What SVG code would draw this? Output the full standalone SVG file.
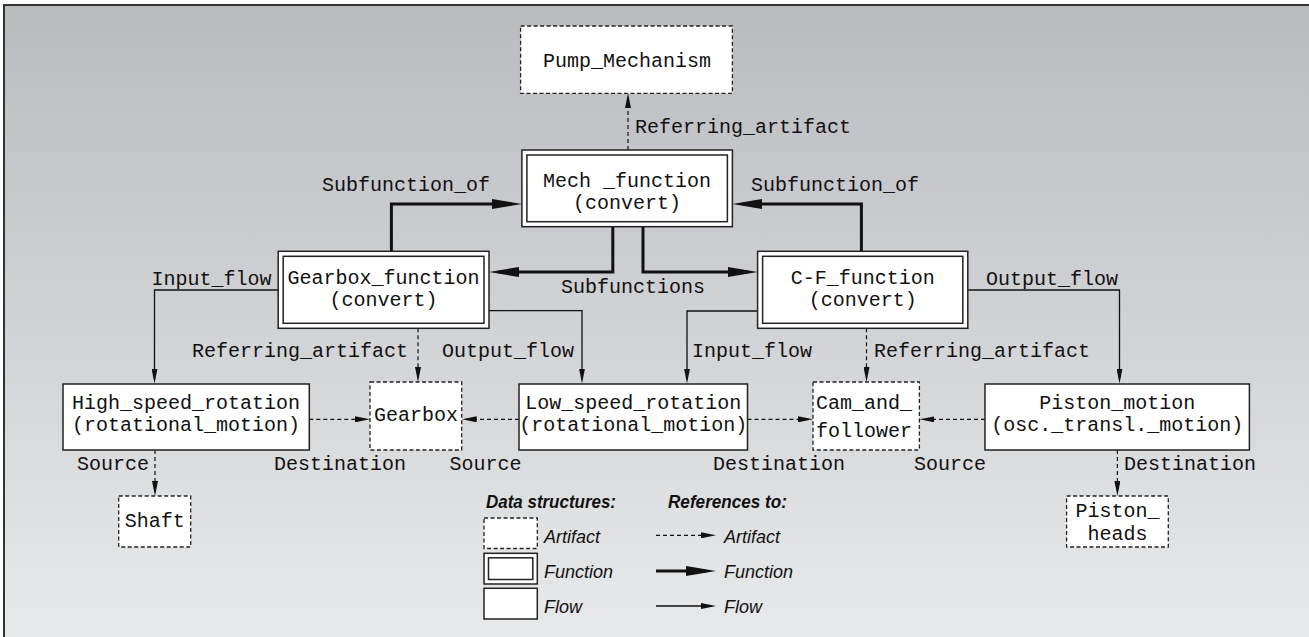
<svg xmlns="http://www.w3.org/2000/svg" width="1309" height="637" viewBox="0 0 1309 637">
<style>
.t{font-family:"Liberation Mono","DejaVu Sans Mono",monospace;font-size:20px;fill:#111}
.m{text-anchor:middle}
.lg{font-family:"Liberation Sans",Arial,sans-serif;font-size:18px;font-style:italic;fill:#111}
.lgb{font-weight:bold}
.box{fill:#fff;stroke:#222;stroke-width:1.5}
.art{fill:#fff;stroke:#222;stroke-width:1.3;stroke-dasharray:4 2.5}
.thick{fill:none;stroke:#111;stroke-width:3}
.flow{fill:none;stroke:#111;stroke-width:1.3}
.ref{fill:none;stroke:#111;stroke-width:1.2;stroke-dasharray:4 3}
</style>
<defs>
<linearGradient id="bg" x1="0" y1="0" x2="0" y2="1">
<stop offset="0" stop-color="#babbbf"/>
<stop offset="1" stop-color="#e8e9ea"/>
</linearGradient>
<marker id="ah" markerUnits="userSpaceOnUse" markerWidth="15" markerHeight="6" refX="11" refY="3" orient="auto">
<path d="M0,0 L15,3 L0,6 z" fill="#111"/>
</marker>
<marker id="ahT" markerUnits="userSpaceOnUse" markerWidth="30" markerHeight="10" refX="20" refY="5" orient="auto">
<path d="M0,0 L30,5 L0,10 z" fill="#111"/>
</marker>
</defs>
<rect x="0" y="0" width="1309" height="637" fill="#fff"/>
<rect x="4" y="5" width="1305" height="632" fill="url(#bg)"/>
<path d="M4,637 V5 H1309" fill="none" stroke="#333" stroke-width="2"/>

<g id="connectors">
<path class="ref" d="M628,150 V97.3" marker-end="url(#ah)"/>
<path class="thick" d="M391.4,251.3 V204 H512" marker-end="url(#ahT)"/>
<path class="thick" d="M861.4,251.3 V204 H742.4" marker-end="url(#ahT)"/>
<path class="thick" d="M612.8,226.7 V272 H499" marker-end="url(#ahT)"/>
<path class="thick" d="M643,226.7 V272 H747.6" marker-end="url(#ahT)"/>
<path class="flow" d="M278.2,290 H154.5 V379.5" marker-end="url(#ah)"/>
<path class="ref" d="M418,328.3 V378" marker-end="url(#ah)"/>
<path class="flow" d="M489,310.7 H582 V379.5" marker-end="url(#ah)"/>
<path class="flow" d="M757.6,311 H687 V379.5" marker-end="url(#ah)"/>
<path class="ref" d="M866.5,328.3 V378" marker-end="url(#ah)"/>
<path class="flow" d="M967.8,290 H1119.5 V379.5" marker-end="url(#ah)"/>
<path class="ref" d="M309.3,419.3 H366" marker-end="url(#ah)"/>
<path class="ref" d="M519,419.3 H465.7" marker-end="url(#ah)"/>
<path class="ref" d="M747.5,419.3 H809" marker-end="url(#ah)"/>
<path class="ref" d="M985,419.3 H923.4" marker-end="url(#ah)"/>
<path class="ref" d="M155,450 V492" marker-end="url(#ah)"/>
<path class="ref" d="M1117.4,450 V492" marker-end="url(#ah)"/>
<text class="t" x="635" y="133">Referring_artifact</text>
<text class="t" x="322" y="191">Subfunction_of</text>
<text class="t" x="751" y="191">Subfunction_of</text>
<text class="t" x="561" y="293">Subfunctions</text>
<text class="t" x="151.5" y="285">Input_flow</text>
<text class="t" x="986" y="285">Output_flow</text>
<text class="t" x="192" y="357">Referring_artifact</text>
<text class="t" x="442" y="357">Output_flow</text>
<text class="t" x="692" y="357">Input_flow</text>
<text class="t" x="874" y="357">Referring_artifact</text>
<text class="t" x="77" y="470">Source</text>
<text class="t" x="274" y="470">Destination</text>
<text class="t" x="449.5" y="470">Source</text>
<text class="t" x="713" y="470">Destination</text>
<text class="t" x="914" y="470">Source</text>
<text class="t" x="1124" y="470">Destination</text>
</g>

<g id="pump_mechanism">
<rect class="art" x="520.6" y="26" width="211.8" height="67.3"/>
<text class="t m" x="627" y="67">Pump_Mechanism</text>
</g>
<g id="mech_function">
<rect class="box" x="521.9" y="150" width="210.5" height="76.7"/>
<rect class="box" x="526.9" y="155" width="200.5" height="66.7"/>
<text class="t m" x="627" y="187">Mech _function</text>
<text class="t m" x="627" y="209">(convert)</text>
</g>
<g id="gearbox_function">
<rect class="box" x="278.2" y="251.3" width="210.8" height="77"/>
<rect class="box" x="283.2" y="256.3" width="200.8" height="67"/>
<text class="t m" x="383.6" y="284">Gearbox_function</text>
<text class="t m" x="383.6" y="306">(convert)</text>
</g>
<g id="cf_function">
<rect class="box" x="757.6" y="251.3" width="210.2" height="77"/>
<rect class="box" x="762.6" y="256.3" width="200.2" height="67"/>
<text class="t m" x="862.7" y="284">C-F_function</text>
<text class="t m" x="862.7" y="306">(convert)</text>
</g>
<g id="high_speed_rotation">
<rect class="box" x="63" y="384" width="246.3" height="66"/>
<text class="t m" x="186" y="409">High_speed_rotation</text>
<text class="t m" x="186" y="431">(rotational_motion)</text>
</g>
<g id="gearbox">
<rect class="art" x="370" y="382" width="91.7" height="68"/>
<text class="t m" x="416" y="421">Gearbox</text>
</g>
<g id="low_speed_rotation">
<rect class="box" x="519" y="384" width="228.5" height="66"/>
<text class="t m" x="633.2" y="409">Low_speed_rotation</text>
<text class="t m" x="633.2" y="431">(rotational_motion)</text>
</g>
<g id="cam_and_follower">
<rect class="art" x="813" y="382" width="106.4" height="68"/>
<text class="t" x="816" y="409">Cam_and_</text>
<text class="t" x="816" y="437">follower</text>
</g>
<g id="piston_motion">
<rect class="box" x="985" y="384" width="264.4" height="66"/>
<text class="t m" x="1117.2" y="409">Piston_motion</text>
<text class="t m" x="1117.2" y="431">(osc._transl._motion)</text>
</g>
<g id="shaft">
<rect class="art" x="118.7" y="496" width="72" height="51"/>
<text class="t m" x="154.7" y="527">Shaft</text>
</g>
<g id="piston_heads">
<rect class="art" x="1066.6" y="496" width="101.7" height="51"/>
<text class="t m" x="1117.5" y="517">Piston_</text>
<text class="t m" x="1117.5" y="540">heads</text>
</g>

<g id="legend">
<text class="lg lgb" x="486" y="508" textLength="130" lengthAdjust="spacingAndGlyphs">Data structures:</text>
<text class="lg lgb" x="668" y="508" textLength="119" lengthAdjust="spacingAndGlyphs">References to:</text>
<rect class="art" x="484" y="518" width="53.3" height="30.5"/>
<rect class="box" x="484" y="553.3" width="53.3" height="30.7"/>
<rect class="box" x="488.5" y="557.8" width="44.3" height="21.7"/>
<rect class="box" x="484" y="588.3" width="53.3" height="30.7"/>
<text class="lg" x="544" y="543">Artifact</text>
<text class="lg" x="544" y="578">Function</text>
<text class="lg" x="544" y="613">Flow</text>
<path class="ref" d="M656,535.3 H712" marker-end="url(#ah)"/>
<path class="thick" d="M656,571 H706" marker-end="url(#ahT)"/>
<path class="flow" d="M656,606 H712" marker-end="url(#ah)"/>
<text class="lg" x="724" y="543">Artifact</text>
<text class="lg" x="724" y="578">Function</text>
<text class="lg" x="724" y="613">Flow</text>
</g>
</svg>
